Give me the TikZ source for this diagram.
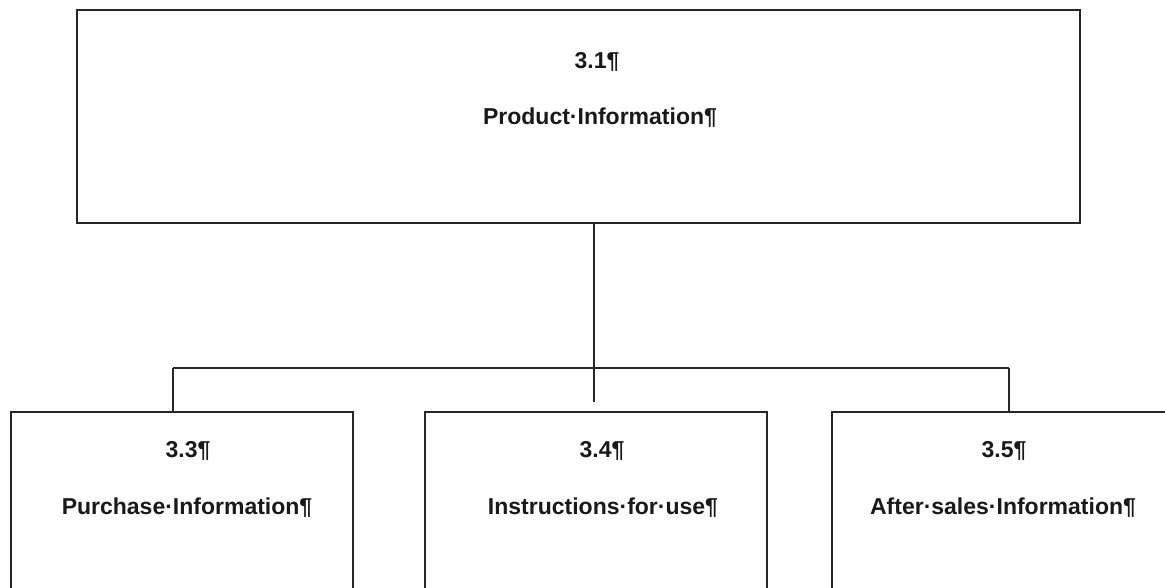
\documentclass[tikz,border=0pt]{standalone}
\usepackage{fontspec}
\setmainfont{Liberation Sans}
\begin{document}
\begin{tikzpicture}[x=1pt,y=-1pt,
  box/.style={draw=black!85,line width=1.7pt,rectangle,anchor=north west,inner sep=0pt},
  txt/.style={font=\bfseries\fontsize{23}{27}\selectfont,text=black!90,inner sep=0pt,anchor=base},
  conn/.style={draw=black!85,line width=1.7pt}]
\useasboundingbox (0,0) rectangle (1165,588);
\clip (0,0) rectangle (1165,588);
% boxes
\node[box,minimum width=1003pt,minimum height=213pt] (top) at (76,9) {};
\node[box,minimum width=342pt,minimum height=200pt] (left) at (10,411) {};
\node[box,minimum width=342pt,minimum height=200pt] (mid) at (424,411) {};
\node[box,minimum width=360pt,minimum height=200pt] (right) at (831,411) {};
% texts
\node[txt] (t1a) at (597,69) {3.1¶};
\node[txt] (t1b) at (600,125) {Product·Information¶};
\node[txt] (t3a) at (188,457) {3.3¶};
\node[txt] (t3b) at (187,514) {Purchase·Information¶};
\node[txt] (t4a) at (602,457) {3.4¶};
\node[txt] (t4b) at (603,514) {Instructions·for·use¶};
\node[txt] (t5a) at (1004,457) {3.5¶};
\node[txt] (t5b) at (1003,514) {After·sales·Information¶};
% connectors
\coordinate (hub) at (594,368);
\coordinate (midend) at (594,402);
\coordinate (lj) at (173,368);
\coordinate (rj) at (1009,368);
\draw[conn] (top.south -| hub) -- (midend);
\draw[conn] (lj) -- (rj);
\draw[conn] (lj) -- (lj |- left.north);
\draw[conn] (rj) -- (rj |- right.north);
\end{tikzpicture}
\end{document}
